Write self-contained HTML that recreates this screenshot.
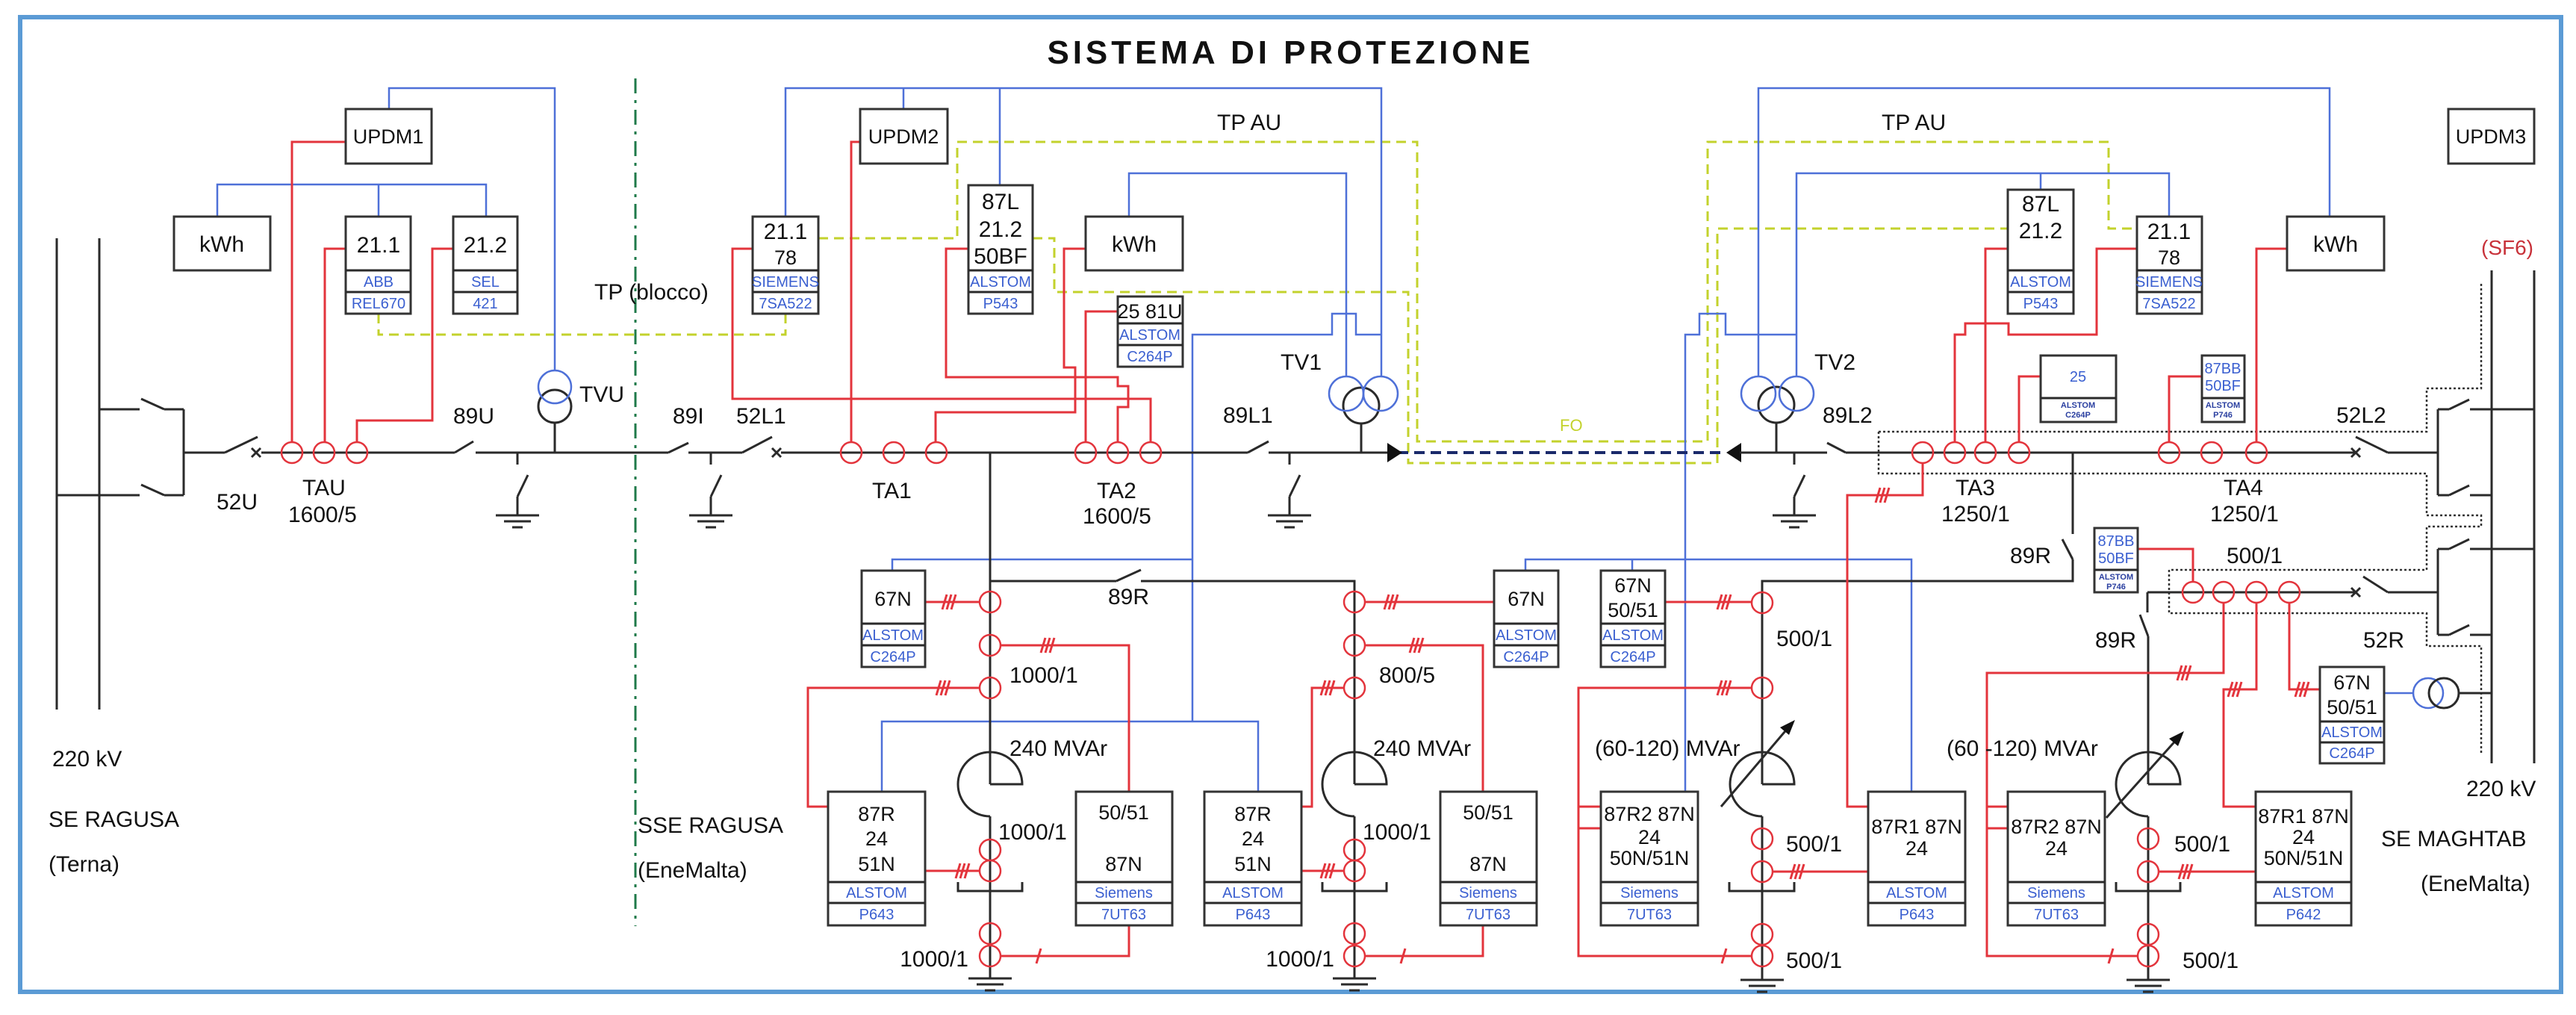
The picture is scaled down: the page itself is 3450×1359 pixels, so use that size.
<!DOCTYPE html>
<html><head><meta charset="utf-8"><style>
html,body{margin:0;padding:0;background:#fff}
svg{display:block}
text{font-family:"Liberation Sans",Arial,sans-serif}
.k{stroke:#2a2a2a;stroke-width:3;fill:none}
.r{stroke:#e3343c;stroke-width:3;fill:none}
.b{stroke:#4e70d8;stroke-width:2.5;fill:none}
.y{stroke:#c3d22c;stroke-width:3;fill:none;stroke-dasharray:13 8}
.d{stroke:#333;stroke-width:2.5;fill:none;stroke-dasharray:3 3}
.ct{stroke:#e3343c;stroke-width:2.5;fill:none}
.bx{fill:#fff;stroke:#333;stroke-width:3}
.t{font-size:30px;fill:#111}
.tb{font-size:30px;fill:#111;text-anchor:middle}
.m{font-size:27px;fill:#111;text-anchor:middle}
.bl{font-size:20px;fill:#3a5fd0;text-anchor:middle}
.bs{font-size:11px;fill:#2a3fa0;text-anchor:middle;font-weight:bold}
</style></head><body>
<svg width="3450" height="1359" viewBox="0 0 3450 1359" xmlns="http://www.w3.org/2000/svg">
<rect x="0" y="0" width="3450" height="1359" fill="#fff"/>
<rect x="27" y="23" width="3403" height="1305" fill="none" stroke="#5b9bd5" stroke-width="6"/>
<text x="1726" y="85" text-anchor="middle" font-weight="bold" font-size="44" textLength="647" lengthAdjust="spacing" fill="#111">SISTEMA  DI  PROTEZIONE</text>

<!-- green dash-dot -->
<line x1="851" y1="105" x2="851" y2="1240" stroke="#1f7a4a" stroke-width="3" stroke-dasharray="20 9 4 9"/>

<!-- yellow dashed -->
<path class="y" d="M507,420 V448 H1052 V420"/>
<path class="y" d="M1096,319 H1282 V190 H1898 V591 H2287 V190 H2824 V306 H2862"/>
<path class="y" d="M1383,319 H1412 V391 H1886 V620 H2300 V306 H2689"/>
<text x="2089" y="577" font-size="22" fill="#c3d22c">FO</text>

<!-- blue lines -->
<path class="b" d="M743,496 V118 H521 V146"/>
<path class="b" d="M291,290 V247 H651 V290 M507,247 V290"/>
<path class="b" d="M1052,290 V118 H1850 V505 M1210,146 V118 M1339,248 V118"/>
<path class="b" d="M1512,290 V232 H1803 V505"/>
<path class="b" d="M1597,966 V448 H1784 V420 H1816 V448 H1850"/>
<path class="b" d="M1195,764 V749 H1597 M1181,1060 V966 H1685 V1060"/>
<path class="b" d="M2043,764 V749 H2560 V1060 M2186,764 V749"/>
<path class="b" d="M2257,1060 V448 H2276 V420 H2311 V448 H2406"/>
<path class="b" d="M2406,505 V232 H2905 V290 M2733,254 V232"/>
<path class="b" d="M2355,505 V118 H3120 V290"/>
<path class="b" d="M3193,928 H3232"/>

<!-- dotted -->
<path class="d" d="M2516,578 H3250 V520 H3323 V377"/>
<path class="d" d="M2516,578 V634 H3250 V690 H3323 V705 H3250 V763 H2905 V821 H3250 V865 H3323 V1008"/>

<!-- left busbars & connections -->
<path class="k" d="M76,319 V950 M133,319 V950"/>
<path class="k" d="M133,548 H187 M189,534 L220,548 M220,548 H246 M76,663 H187 M189,649 L220,663 M220,663 H246 M246,548 V663"/>
<!-- main bus -->
<path class="k" d="M246,606 H301 M301,606 L345,585 M337,600 L349,612 M349,600 L337,612 M350,606 H609 M609,606 L634,591 M637,606 H895 M895,606 L922,593 M922,606 H994 M994,606 L1034,585 M1034,600 L1046,612 M1046,600 L1034,612 M1046,606 H1671 M1671,606 L1699,591 M1699,606 H1858"/>
<path d="M1872,606 H2312" stroke="#1a2a6a" stroke-width="4" stroke-dasharray="14 8" fill="none"/>
<polygon points="1858,593 1878,606 1858,619" fill="#111"/>
<polygon points="2332,593 2312,606 2332,619" fill="#111"/>
<path class="k" d="M2330,606 H2447 M2447,593 L2472,606 M2472,606 H3154 M3149,600 L3161,612 M3161,600 L3149,612 M3155,585 L3198,606 M3198,606 H3265"/>
<path class="k" d="M3265,548 V663 M3265,548 H3280 M3280,548 L3307,535 M3308,548 H3394 M3265,663 H3280 M3280,663 L3307,650 M3308,663 H3337"/>
<path class="k" d="M3337,362 V1022 M3394,362 V1022"/>
<path class="k" d="M3265,735 V850 M3265,735 H3280 M3280,735 L3307,722 M3308,735 H3394 M3265,850 H3280 M3280,850 L3307,837 M3308,850 H3337"/>
<path class="k" d="M2876,793 H3154 M3149,787 L3161,799 M3161,787 L3149,799 M3165,772 L3198,793 M3198,793 H3265"/>
<path class="k" d="M3294,928 H3337"/>

<!-- ground switches -->
<g class="k">
<path d="M693,606 V622 M693,665 L707,636 M693,665 V690 M664,690 H722 M675,698 H711 M686,706 H700"/>
<path d="M952,606 V622 M952,665 L966,636 M952,665 V690 M923,690 H981 M934,698 H970 M945,706 H959"/>
<path d="M1727,606 V622 M1727,665 L1741,636 M1727,665 V690 M1698,690 H1756 M1709,698 H1745 M1720,706 H1734"/>
<path d="M2403,606 V622 M2403,665 L2417,636 M2403,665 V690 M2374,690 H2432 M2385,698 H2421 M2396,706 H2410"/>
</g>

<!-- TV -->
<path class="k" d="M743,606 V566"/>
<circle cx="743" cy="544" r="22" class="k"/>
<circle cx="743" cy="518" r="22" class="b"/>
<path class="k" d="M1823,606 V567"/>
<circle cx="1823" cy="543" r="24" class="k"/>
<circle cx="1803" cy="527" r="23" class="b"/>
<circle cx="1849" cy="527" r="23" class="b"/>
<path class="k" d="M2379,606 V566"/>
<circle cx="2379" cy="542" r="24" class="k"/>
<circle cx="2355" cy="527" r="23" class="b"/>
<circle cx="2406" cy="527" r="23" class="b"/>
<circle cx="3252" cy="928" r="20" class="b"/>
<circle cx="3273" cy="928" r="20" class="k"/>

<!-- lower black -->
<path class="k" d="M1326,606 V1050 M1326,1093 V1310 M1297,1310 H1355 M1308,1318 H1344 M1319,1326 H1333"/>
<path class="k" d="M1326,778 H1495 M1495,778 L1528,763 M1528,778 H1814 V1050 M1814,1093 V1310 M1785,1310 H1843 M1796,1318 H1832 M1807,1326 H1821"/>
<path class="k" d="M1326,1093 A43,43 0 1 1 1369,1050 H1326"/>
<path class="k" d="M1814,1093 A43,43 0 1 1 1857,1050 H1814"/>
<path class="k" d="M1283,1181 V1193 H1369 V1181 M1771,1181 V1193 H1857 V1181"/>
<path class="k" d="M2776,606 V715 M2762,722 L2776,749 M2776,749 V778 H2360 V1050 M2360,1093 V1312 M2331,1312 H2389 M2342,1320 H2378 M2353,1328 H2367"/>
<path class="k" d="M2360,1093 A43,43 0 1 1 2403,1050 H2360"/>
<path class="k" d="M2305,1080 L2396,973"/><polygon points="2404,964 2384,974 2396,984" fill="#111"/>
<path class="k" d="M2876,793 V820 M2866,823 L2877,852 M2877,852 V1050 M2877,1093 V1312 M2848,1312 H2906 M2859,1320 H2895 M2870,1328 H2884"/>
<path class="k" d="M2877,1093 A43,43 0 1 1 2920,1050 H2877"/>
<path class="k" d="M2821,1095 L2917,988"/><polygon points="2925,979 2905,989 2917,999" fill="#111"/>
<path class="k" d="M2316,1181 V1193 H2403 V1181 M2834,1181 V1193 H2920 V1181"/>

<!-- red lines -->
<g class="r">
<path d="M463,190 H391 V592"/>
<path d="M463,333 H435 V592"/>
<path d="M607,333 H579 V563 H478 V592"/>
<path d="M1008,333 H981 V534 H1541 V592"/>
<path d="M1152,190 H1140 V592"/>
<path d="M1297,333 H1267 V505 H1497 V517 H1511 V545 H1497 V592"/>
<path d="M1454,333 H1425 V492 H1440 V552 H1253 V592"/>
<path d="M1497,417 H1454 V592"/>
<path d="M2689,333 H2659 V592"/>
<path d="M2862,333 H2808 V448 H2690 V433 H2632 V448 H2618 V592"/>
<path d="M2733,504 H2704 V592"/>
<path d="M2949,504 H2905 V592"/>
<path d="M3063,333 H3022 V592"/>
<path d="M2575,620 V663 H2474 V1080 H2502"/>
<path d="M2863,735 H2937 V779"/>
<path d="M2978,807 V901 H2661 V1280 H2863 M2661,1080 H2689 M2661,1109 H2689"/>
<path d="M3022,807 V923 H2978 V1080 H3021"/>
<path d="M3066,807 V923 H3107"/>
<path d="M2891,1167 H3021"/>
<path d="M2230,806 H2346"/>
<path d="M2346,921 H2114 V1280 H2346 M2114,1080 H2144 M2114,1109 H2144"/>
<path d="M2374,1167 H2502"/>
<path d="M1239,806 H1312"/>
<path d="M1340,864 H1512 V1060"/>
<path d="M1312,921 H1082 V1080 H1109"/>
<path d="M1239,1166 H1312"/>
<path d="M1512,1239 V1280 H1340"/>
<path d="M1743,1080 H1757 V921 H1800"/>
<path d="M2001,806 H1828"/>
<path d="M1828,864 H1986 V1060"/>
<path d="M1743,1166 H1800"/>
<path d="M1986,1239 V1280 H1828"/>
<!-- slash marks -->
<path d="M2512,673 L2518,653 M2518,673 L2524,653 M2524,673 L2530,653"/>
<path d="M2916,911 L2922,891 M2922,911 L2928,891 M2928,911 L2934,891"/>
<path d="M2984,933 L2990,913 M2990,933 L2996,913 M2996,933 L3002,913"/>
<path d="M3074,933 L3080,913 M3080,933 L3086,913 M3086,933 L3092,913"/>
<path d="M2918,1177 L2924,1157 M2924,1177 L2930,1157 M2930,1177 L2936,1157"/>
<path d="M2824,1290 L2830,1270"/>
<path d="M2300,816 L2306,796 M2306,816 L2312,796 M2312,816 L2318,796"/>
<path d="M2300,931 L2306,911 M2306,931 L2312,911 M2312,931 L2318,911"/>
<path d="M2306,1290 L2312,1270"/>
<path d="M2398,1177 L2404,1157 M2404,1177 L2410,1157 M2410,1177 L2416,1157"/>
<path d="M1262,816 L1268,796 M1268,816 L1274,796 M1274,816 L1280,796"/>
<path d="M1394,874 L1400,854 M1400,874 L1406,854 M1406,874 L1412,854"/>
<path d="M1254,931 L1260,911 M1260,931 L1266,911 M1266,931 L1272,911"/>
<path d="M1280,1176 L1286,1156 M1286,1176 L1292,1156 M1292,1176 L1298,1156"/>
<path d="M1388,1290 L1394,1270"/>
<path d="M1769,931 L1775,911 M1775,931 L1781,911 M1781,931 L1787,911"/>
<path d="M1854,816 L1860,796 M1860,816 L1866,796 M1866,816 L1872,796"/>
<path d="M1888,874 L1894,854 M1894,874 L1900,854 M1900,874 L1906,854"/>
<path d="M1769,1176 L1775,1156 M1775,1176 L1781,1156 M1781,1176 L1787,1156"/>
<path d="M1876,1290 L1882,1270"/>
</g>

<!-- CTs -->
<g class="ct">
<circle cx="391" cy="606" r="14"/><circle cx="434" cy="606" r="14"/><circle cx="478" cy="606" r="14"/>
<circle cx="1140" cy="606" r="14"/><circle cx="1197" cy="606" r="14"/><circle cx="1254" cy="606" r="14"/>
<circle cx="1454" cy="606" r="14"/><circle cx="1497" cy="606" r="14"/><circle cx="1541" cy="606" r="14"/>
<circle cx="2575" cy="606" r="14"/><circle cx="2618" cy="606" r="14"/><circle cx="2659" cy="606" r="14"/><circle cx="2704" cy="606" r="14"/>
<circle cx="2905" cy="606" r="14"/><circle cx="2962" cy="606" r="14"/><circle cx="3022" cy="606" r="14"/>
<circle cx="2937" cy="793" r="14"/><circle cx="2978" cy="793" r="14"/><circle cx="3022" cy="793" r="14"/><circle cx="3066" cy="793" r="14"/>
<circle cx="1326" cy="806" r="14"/><circle cx="1326" cy="864" r="14"/><circle cx="1326" cy="921" r="14"/><circle cx="1326" cy="1138" r="14"/><circle cx="1326" cy="1166" r="14"/><circle cx="1326" cy="1250" r="14"/><circle cx="1326" cy="1280" r="14"/>
<circle cx="1814" cy="806" r="14"/><circle cx="1814" cy="864" r="14"/><circle cx="1814" cy="921" r="14"/><circle cx="1814" cy="1138" r="14"/><circle cx="1814" cy="1166" r="14"/><circle cx="1814" cy="1250" r="14"/><circle cx="1814" cy="1280" r="14"/>
<circle cx="2360" cy="807" r="14"/><circle cx="2360" cy="921" r="14"/><circle cx="2360" cy="1123" r="14"/><circle cx="2360" cy="1167" r="14"/><circle cx="2360" cy="1251" r="14"/><circle cx="2360" cy="1280" r="14"/>
<circle cx="2877" cy="1123" r="14"/><circle cx="2877" cy="1167" r="14"/><circle cx="2877" cy="1251" r="14"/><circle cx="2877" cy="1280" r="14"/>
</g>

<!-- upper boxes -->
<rect class="bx" x="463" y="146" width="115" height="73"/><text class="m" x="520" y="192">UPDM1</text>
<rect class="bx" x="1152" y="146" width="117" height="73"/><text class="m" x="1210" y="192">UPDM2</text>
<rect class="bx" x="3279" y="146" width="115" height="73"/><text class="m" x="3336" y="192">UPDM3</text>
<rect class="bx" x="233" y="290" width="129" height="72"/><text class="tb" x="297" y="337">kWh</text>
<rect class="bx" x="1454" y="290" width="130" height="72"/><text class="tb" x="1519" y="337">kWh</text>
<rect class="bx" x="3063" y="290" width="130" height="72"/><text class="tb" x="3128" y="337">kWh</text>

<rect class="bx" x="463" y="290" width="87" height="130"/><path class="k" d="M463,362 H550 M463,391 H550"/>
<text class="tb" x="507" y="338">21.1</text><text class="bl" x="507" y="384">ABB</text><text class="bl" x="507" y="413">REL670</text>
<rect class="bx" x="607" y="290" width="86" height="130"/><path class="k" d="M607,362 H693 M607,391 H693"/>
<text class="tb" x="650" y="338">21.2</text><text class="bl" x="650" y="384">SEL</text><text class="bl" x="650" y="413">421</text>
<rect class="bx" x="1008" y="290" width="88" height="130"/><path class="k" d="M1008,362 H1096 M1008,391 H1096"/>
<text class="tb" x="1052" y="320">21.1</text><text class="m" x="1052" y="354">78</text><text class="bl" x="1052" y="384" font-size="19">SIEMENS</text><text class="bl" x="1052" y="413">7SA522</text>
<rect class="bx" x="1297" y="248" width="86" height="172"/><path class="k" d="M1297,362 H1383 M1297,391 H1383"/>
<text class="tb" x="1340" y="280">87L</text><text class="tb" x="1340" y="317">21.2</text><text class="tb" x="1340" y="353">50BF</text><text class="bl" x="1340" y="384">ALSTOM</text><text class="bl" x="1340" y="413">P543</text>
<rect class="bx" x="1497" y="397" width="87" height="94"/><path class="k" d="M1497,433 H1584 M1497,462 H1584"/>
<text class="m" x="1540" y="426" font-size="24">25 81U</text><text class="bl" x="1540" y="455" font-size="19">ALSTOM</text><text class="bl" x="1540" y="484" font-size="19">C264P</text>
<rect class="bx" x="2689" y="254" width="88" height="166"/><path class="k" d="M2689,362 H2777 M2689,391 H2777"/>
<text class="tb" x="2733" y="283">87L</text><text class="tb" x="2733" y="319">21.2</text><text class="bl" x="2733" y="384">ALSTOM</text><text class="bl" x="2733" y="413">P543</text>
<rect class="bx" x="2862" y="290" width="87" height="130"/><path class="k" d="M2862,362 H2949 M2862,391 H2949"/>
<text class="tb" x="2905" y="320">21.1</text><text class="m" x="2905" y="354">78</text><text class="bl" x="2905" y="384" font-size="19">SIEMENS</text><text class="bl" x="2905" y="413">7SA522</text>

<rect class="bx" x="2733" y="476" width="101" height="89"/><path class="k" d="M2733,533 H2834"/>
<text class="bl" x="2783" y="511">25</text><text class="bs" x="2783" y="546">ALSTOM</text><text class="bs" x="2783" y="559">C264P</text>
<rect class="bx" x="2949" y="476" width="57" height="89"/><path class="k" d="M2949,533 H3006"/>
<text class="bl" x="2977" y="500" font-size="16">87BB</text><text class="bl" x="2977" y="523" font-size="16">50BF</text><text class="bs" x="2977" y="546">ALSTOM</text><text class="bs" x="2977" y="559">P746</text>
<rect class="bx" x="2805" y="707" width="58" height="86"/><path class="k" d="M2805,763 H2863"/>
<text class="bl" x="2834" y="731" font-size="16">87BB</text><text class="bl" x="2834" y="754" font-size="16">50BF</text><text class="bs" x="2834" y="776">ALSTOM</text><text class="bs" x="2834" y="789">P746</text>

<!-- lower boxes -->
<rect class="bx" x="1154" y="764" width="85" height="129"/><path class="k" d="M1154,835 H1239 M1154,864 H1239"/>
<text class="m" x="1196" y="811">67N</text><text class="bl" x="1196" y="857">ALSTOM</text><text class="bl" x="1196" y="886">C264P</text>
<rect class="bx" x="2001" y="764" width="86" height="129"/><path class="k" d="M2001,835 H2087 M2001,864 H2087"/>
<text class="m" x="2044" y="811">67N</text><text class="bl" x="2044" y="857">ALSTOM</text><text class="bl" x="2044" y="886">C264P</text>
<rect class="bx" x="2144" y="764" width="86" height="129"/><path class="k" d="M2144,835 H2230 M2144,864 H2230"/>
<text class="m" x="2187" y="793">67N</text><text class="m" x="2187" y="826">50/51</text><text class="bl" x="2187" y="857">ALSTOM</text><text class="bl" x="2187" y="886">C264P</text>
<rect class="bx" x="3107" y="893" width="86" height="129"/><path class="k" d="M3107,966 H3193 M3107,994 H3193"/>
<text class="m" x="3150" y="923">67N</text><text class="m" x="3150" y="956">50/51</text><text class="bl" x="3150" y="987">ALSTOM</text><text class="bl" x="3150" y="1015">C264P</text>

<rect class="bx" x="1109" y="1060" width="130" height="179"/><path class="k" d="M1109,1181 H1239 M1109,1209 H1239"/>
<text class="m" x="1174" y="1099">87R</text><text class="m" x="1174" y="1132">24</text><text class="m" x="1174" y="1166">51N</text><text class="bl" x="1174" y="1202">ALSTOM</text><text class="bl" x="1174" y="1231">P643</text>
<rect class="bx" x="1441" y="1060" width="129" height="179"/><path class="k" d="M1441,1181 H1570 M1441,1209 H1570"/>
<text class="m" x="1505" y="1097">50/51</text><text class="m" x="1505" y="1166">87N</text><text class="bl" x="1505" y="1202">Siemens</text><text class="bl" x="1505" y="1231">7UT63</text>
<rect class="bx" x="1613" y="1060" width="130" height="179"/><path class="k" d="M1613,1181 H1743 M1613,1209 H1743"/>
<text class="m" x="1678" y="1099">87R</text><text class="m" x="1678" y="1132">24</text><text class="m" x="1678" y="1166">51N</text><text class="bl" x="1678" y="1202">ALSTOM</text><text class="bl" x="1678" y="1231">P643</text>
<rect class="bx" x="1929" y="1060" width="129" height="179"/><path class="k" d="M1929,1181 H2058 M1929,1209 H2058"/>
<text class="m" x="1993" y="1097">50/51</text><text class="m" x="1993" y="1166">87N</text><text class="bl" x="1993" y="1202">Siemens</text><text class="bl" x="1993" y="1231">7UT63</text>
<rect class="bx" x="2144" y="1060" width="130" height="179"/><path class="k" d="M2144,1181 H2274 M2144,1209 H2274"/>
<text class="m" x="2209" y="1099" font-size="25">87R2 87N</text><text class="m" x="2209" y="1130" font-size="25">24</text><text class="m" x="2209" y="1158" font-size="25">50N/51N</text><text class="bl" x="2209" y="1202">Siemens</text><text class="bl" x="2209" y="1231">7UT63</text>
<rect class="bx" x="2502" y="1060" width="130" height="179"/><path class="k" d="M2502,1181 H2632 M2502,1209 H2632"/>
<text class="m" x="2567" y="1116" font-size="25">87R1 87N</text><text class="m" x="2567" y="1145" font-size="25">24</text><text class="bl" x="2567" y="1202">ALSTOM</text><text class="bl" x="2567" y="1231">P643</text>
<rect class="bx" x="2689" y="1060" width="130" height="179"/><path class="k" d="M2689,1181 H2819 M2689,1209 H2819"/>
<text class="m" x="2754" y="1116" font-size="25">87R2 87N</text><text class="m" x="2754" y="1145" font-size="25">24</text><text class="bl" x="2754" y="1202">Siemens</text><text class="bl" x="2754" y="1231">7UT63</text>
<rect class="bx" x="3021" y="1060" width="128" height="179"/><path class="k" d="M3021,1181 H3149 M3021,1209 H3149"/>
<text class="m" x="3085" y="1102" font-size="25">87R1 87N</text><text class="m" x="3085" y="1130" font-size="25">24</text><text class="m" x="3085" y="1158" font-size="25">50N/51N</text><text class="bl" x="3085" y="1202">ALSTOM</text><text class="bl" x="3085" y="1231">P642</text>

<!-- labels -->
<g class="t">
<text x="796" y="401">TP (blocco)</text>
<text x="607" y="567">89U</text><text x="776" y="538">TVU</text><text x="901" y="567">89I</text><text x="986" y="567">52L1</text>
<text x="290" y="682">52U</text><text x="405" y="663">TAU</text><text x="386" y="699">1600/5</text>
<text x="1168" y="667">TA1</text><text x="1469" y="667">TA2</text><text x="1450" y="701">1600/5</text>
<text x="1715" y="495">TV1</text><text x="1638" y="566">89L1</text>
<text x="1630" y="174">TP AU</text><text x="2520" y="174">TP AU</text>
<text x="2430" y="495">TV2</text><text x="2441" y="566">89L2</text><text x="3129" y="566">52L2</text>
<text x="2619" y="663">TA3</text><text x="2600" y="698">1250/1</text><text x="2978" y="663">TA4</text><text x="2960" y="698">1250/1</text>
<text x="3323" y="341" fill="#c8323a" font-size="28">(SF6)</text>
<text x="1484" y="809">89R</text><text x="1352" y="914">1000/1</text><text x="1847" y="914">800/5</text>
<text x="1352" y="1012">240 MVAr</text><text x="1839" y="1012">240 MVAr</text>
<text x="1337" y="1124">1000/1</text><text x="1825" y="1124">1000/1</text>
<text x="1297" y="1294" text-anchor="end">1000/1</text><text x="1787" y="1294" text-anchor="end">1000/1</text>
<text x="2692" y="754">89R</text><text x="2982" y="754">500/1</text><text x="2806" y="867">89R</text><text x="3165" y="867">52R</text>
<text x="2379" y="865">500/1</text>
<text x="2136" y="1012">(60-120) MVAr</text><text x="2607" y="1012">(60 -120) MVAr</text>
<text x="2392" y="1140">500/1</text><text x="2912" y="1140">500/1</text>
<text x="2392" y="1296">500/1</text><text x="2923" y="1296">500/1</text>
<text x="70" y="1026">220 kV</text><text x="65" y="1107">SE RAGUSA</text><text x="65" y="1167">(Terna)</text>
<text x="854" y="1115">SSE RAGUSA</text><text x="854" y="1175">(EneMalta)</text>
<text x="3303" y="1066">220 kV</text><text x="3189" y="1133">SE MAGHTAB</text><text x="3242" y="1193">(EneMalta)</text>
</g>
</svg>
</body></html>
